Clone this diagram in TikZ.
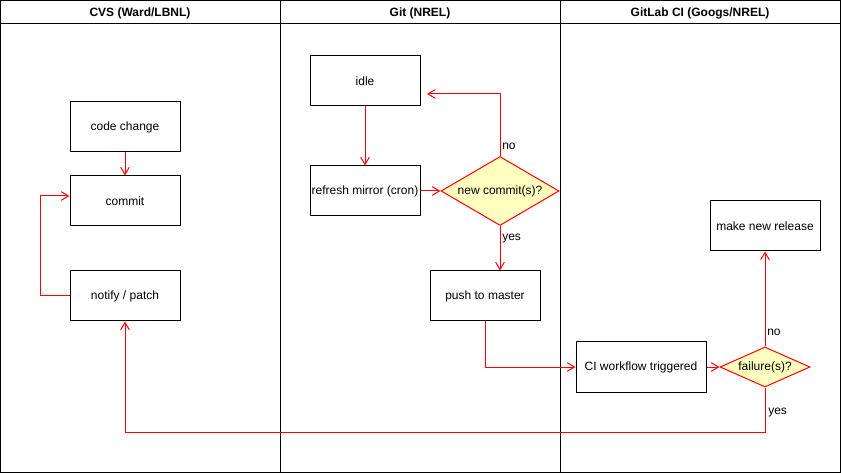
\documentclass[tikz,border=0pt]{standalone}
\usepackage{fontspec}
\setmainfont{Liberation Sans}
\usepackage{tikz}
\usetikzlibrary{arrows.meta,shapes.geometric}

\definecolor{flowred}{RGB}{255,0,0}
\definecolor{askfill}{RGB}{255,255,192}

\tikzset{
    stepbox/.style={draw=black, line width=0.75pt, fill=white, minimum width=82.5pt, minimum height=37.5pt, inner sep=0.75pt, font=\fontsize{9}{11}\selectfont},
    askbox/.style={diamond, draw=flowred, line width=0.75pt, fill=askfill, inner sep=0pt, font=\fontsize{9}{11}\selectfont},
    flow/.style={draw=flowred, line width=0.75pt, -{Straight Barb[length=5.5pt,width=6.5pt]}},
    lane/.style={draw=black, line width=1pt},
    lanetitle/.style={font=\bfseries\fontsize{9}{11}\selectfont, inner sep=0.75pt},
    flowtext/.style={anchor=west, inner sep=0.75pt, font=\fontsize{9}{11}\selectfont}
}

\begin{document}
\begin{tikzpicture}[x=0.75pt,y=0.75pt,yscale=-1,xscale=1]
    \useasboundingbox (0,0) rectangle (841,473);

    %Pool and lanes
    \draw [lane] (0.75,0.75) rectangle (840.25,472.25);
    \draw [lane] (0.75,23.5) -- (840.25,23.5);
    \draw [lane] (280.5,0.75) -- (280.5,472.25);
    \draw [lane] (560.5,0.75) -- (560.5,472.25);

    % Lane titles
    \node [lanetitle] (cvstitle) at (140,13) {CVS (Ward/LBNL)};
    \node [lanetitle] (gittitle) at (420,13) {Git (NREL)};
    \node [lanetitle] (citilte) at (700,13) {GitLab CI (Googs/NREL)};

    % CVS lane
    \node [stepbox] (change) at (125,127) {code change};
    \node [stepbox] (commit) at (125,201) {commit};
    \node [stepbox] (notify) at (125,296) {notify / patch};

    % Git lane
    \node [stepbox] (idle) at (365,81) {idle};
    \node [stepbox] (refresh) at (365,191) {refresh mirror (cron)};
    \node [askbox, aspect=1.71, minimum width=88.5pt, minimum height=51.75pt] (newcommit) at (500,191) {new commit(s)?};
    \node [stepbox] (push) at (485,296) {push to master};

    % GitLab CI lane
    \node [stepbox, minimum width=97.5pt] (ciflow) at (641,367) {CI workflow triggered};
    \node [askbox, aspect=2.25, minimum width=67.5pt, minimum height=30pt] (failure) at (765,367) {failure(s)?};
    \node [stepbox] (release) at (765,226) {make new release};

    \coordinate (idlein) at (427,94);

    %Connectors
    \draw [flow] (change) -- (commit);
    \draw [flow] (notify.west) -- (40,296) -- (40,196) -- (commit.west |- 0,196);
    \draw [flow] (idle) -- (refresh);
    \draw [flow] (refresh) -- (newcommit);
    \draw [flow] (newcommit.north) |- (idlein);
    \draw [flow] (newcommit.south) -- (newcommit.south |- push.north);
    \draw [flow] (push.south) |- (ciflow.west);
    \draw [flow] (ciflow) -- (failure);
    \draw [flow] (failure.north) -- (release.south);
    \draw [flow] (failure.south) -- (765,432) -| (notify.south);

    % Text Node
    \node [flowtext] (nonew) at (501,146.5) {no};
    % Text Node
    \node [flowtext] (yesnew) at (501,239) {yes};
    % Text Node
    \node [flowtext] (nofail) at (766,332.5) {no};
    % Text Node
    \node [flowtext] (yesfail) at (767,412.5) {yes};
\end{tikzpicture}
\end{document}
